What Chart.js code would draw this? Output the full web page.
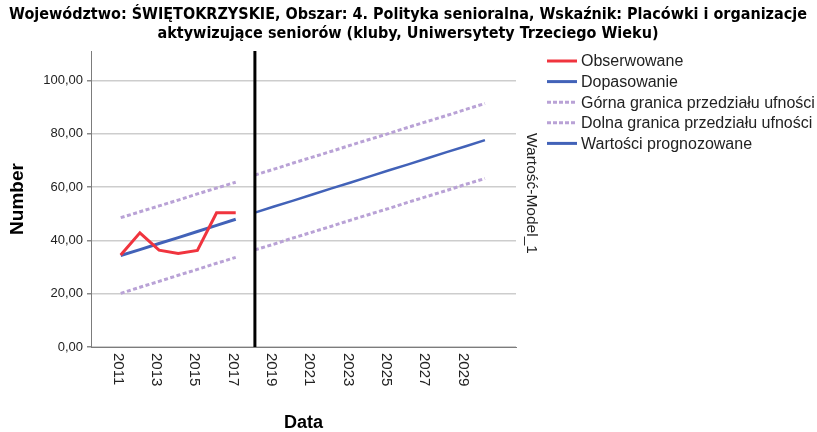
<!DOCTYPE html>
<html>
<head>
<meta charset="utf-8">
<script src="https://cdn.jsdelivr.net/npm/chart.js@4"></script>
<style>
  html, body { margin: 0; padding: 0; background: #fff; }
  #wrap { width: 817px; height: 432px; }
</style>
</head>
<body>
<div id="wrap"><canvas id="chart" width="817" height="432"></canvas></div>
<script>
// dane
const titleLines = [
  'Województwo: ŚWIĘTOKRZYSKIE, Obszar: 4. Polityka senioralna, Wskaźnik: Placówki i organizacje',
  'aktywizujące seniorów (kluby, Uniwersytety Trzeciego Wieku)'
];
const histYears = [2011, 2012, 2013, 2014, 2015, 2016, 2017];
const observed = [34.5, 42.8, 36.3, 35.1, 36.2, 50.3, 50.3];
const fitted = [34.3, 36.5, 38.8, 41.0, 43.3, 45.6, 47.9];
const upperHist = [48.5, 50.7, 52.9, 55.1, 57.4, 59.6, 61.8];
const lowerHist = [20.1, 22.4, 24.6, 26.9, 29.1, 31.4, 33.6];

const fcYears = [2018, 2019, 2020, 2021, 2022, 2023, 2024, 2025, 2026, 2027, 2028, 2029, 2030];
const forecast = [50.4, 52.7, 54.9, 57.2, 59.5, 61.7, 64.0, 66.3, 68.5, 70.8, 73.1, 75.3, 77.6];
const upperFc = [64.5, 66.7, 69.0, 71.2, 73.4, 75.7, 77.9, 80.1, 82.4, 84.6, 86.8, 89.1, 91.3];
const lowerFc = [36.4, 38.6, 40.9, 43.1, 45.3, 47.6, 49.8, 52.0, 54.3, 56.5, 58.7, 61.0, 63.2];

const xTickYears = [2011, 2013, 2015, 2017, 2019, 2021, 2023, 2025, 2027, 2029];
const yTicks = [0, 20, 40, 60, 80, 100];
const forecastStart = 2018;

const RED = '#f0343e';
const BLUE = '#4262b8';
const LILAC = '#b9a2d6';
const FONT = '"Liberation Sans", Arial, sans-serif';

const pts = (xs, ys) => xs.map((x, i) => ({ x: x, y: ys[i] }));

const datasets = [
  { label: 'Obserwowane', data: pts(histYears, observed), borderColor: RED, borderWidth: 3, legend: true },
  { label: 'Dopasowanie', data: pts(histYears, fitted), borderColor: BLUE, borderWidth: 3, legend: true },
  { label: 'Górna granica przedziału ufności', data: pts(histYears, upperHist), borderColor: LILAC, borderWidth: 3, borderDash: [4, 2.5], legend: true },
  { label: 'Dolna granica przedziału ufności', data: pts(histYears, lowerHist), borderColor: LILAC, borderWidth: 3, borderDash: [4, 2.5], legend: true },
  { label: 'Górna (prognoza)', data: pts(fcYears, upperFc), borderColor: LILAC, borderWidth: 3, borderDash: [4, 2.5], legend: false },
  { label: 'Dolna (prognoza)', data: pts(fcYears, lowerFc), borderColor: LILAC, borderWidth: 3, borderDash: [4, 2.5], legend: false },
  { label: 'Wartości prognozowane', data: pts(fcYears, forecast), borderColor: BLUE, borderWidth: 2.5, legend: true }
];
datasets.forEach(d => { d.pointRadius = 0; d.fill = false; d.tension = 0; });

// rysowanie elementów, których Chart.js nie robi tak jak SPSS
const extras = {
  id: 'extras',
  afterDatasetsDraw(chart) {
    const { ctx, chartArea, scales } = chart;
    const x = scales.x;
    ctx.save();
    // linia pionowa początku prognozy
    const px = x.getPixelForValue(forecastStart);
    ctx.strokeStyle = '#000';
    ctx.lineWidth = 3;
    ctx.beginPath();
    ctx.moveTo(px, chartArea.top);
    ctx.lineTo(px, chartArea.bottom);
    ctx.stroke();

    // etykiety osi X obrócone zgodnie z ruchem wskazówek
    ctx.fillStyle = '#222';
    ctx.font = '15px ' + FONT;
    ctx.textAlign = 'left';
    ctx.textBaseline = 'middle';
    xTickYears.forEach(yr => {
      const tx = x.getPixelForValue(yr) - 3;
      ctx.save();
      ctx.translate(tx, chartArea.bottom + 6);
      ctx.rotate(Math.PI / 2);
      ctx.fillText(String(yr), 0, 0);
      ctx.restore();
    });

    // tytuł osi X
    ctx.font = 'bold 18px ' + FONT;
    ctx.fillStyle = '#000';
    ctx.textAlign = 'center';
    ctx.fillText('Data', (chartArea.left + chartArea.right) / 2, 423);

    // tytuł wykresu
    ctx.font = 'bold 16px "Liberation Sans Narrow", "DejaVu Sans Condensed", sans-serif';
    ctx.fillText(titleLines[0], 408, 15);
    ctx.fillText(titleLines[1], 408, 34);

    // legenda
    ctx.font = '16px ' + FONT;
    ctx.textAlign = 'left';
    let row = 0;
    chart.data.datasets.forEach(d => {
      if (!d.legend) return;
      const ly = 61 + row * 20.6;
      ctx.strokeStyle = d.borderColor;
      ctx.lineWidth = 3;
      ctx.setLineDash(d.borderDash ? [4, 2] : []);
      ctx.beginPath();
      ctx.moveTo(547, ly);
      ctx.lineTo(577, ly);
      ctx.stroke();
      ctx.setLineDash([]);
      ctx.fillStyle = '#222';
      ctx.fillText(d.label, 581, ly + 1);
      row++;
    });

    // nazwa modelu
    ctx.font = '15.5px ' + FONT;
    ctx.save();
    ctx.translate(531, 133);
    ctx.rotate(Math.PI / 2);
    ctx.fillText('Wartość-Model_1', 0, 0);
    ctx.restore();
    ctx.restore();
  }
};

new Chart(document.getElementById('chart'), {
  type: 'line',
  data: { datasets: datasets },
  options: {
    responsive: false,
    animation: false,
    layout: { padding: { top: 51, right: 301, left: 0, bottom: 0 } },
    plugins: { legend: { display: false }, title: { display: false }, tooltip: { enabled: false } },
    scales: {
      x: {
        type: 'linear',
        min: 2009.45,
        max: 2031.62,
        grid: { display: false },
        border: { display: true, color: '#7c7c7c', width: 1 },
        ticks: { display: false },
        afterFit(s) { s.height = 85; }
      },
      y: {
        min: 0,
        max: 111,
        afterBuildTicks(s) { s.ticks = yTicks.map(v => ({ value: v })); },
        afterFit(s) { s.width = 91; },
        grid: { color: '#cdcdcd', lineWidth: 1.5, tickLength: 4, tickColor: '#8a8a8a' },
        border: { display: true, color: '#7c7c7c', width: 1 },
        ticks: {
          padding: 4,
          color: '#222',
          font: { family: FONT, size: 13 },
          callback: v => v.toFixed(2).replace('.', ',')
        },
        title: {
          display: true,
          text: 'Number',
          color: '#000',
          font: { family: FONT, size: 19, weight: 'bold' },
          padding: { top: 6, bottom: 0 }
        }
      }
    }
  },
  plugins: [extras]
});
</script>
</body>
</html>
